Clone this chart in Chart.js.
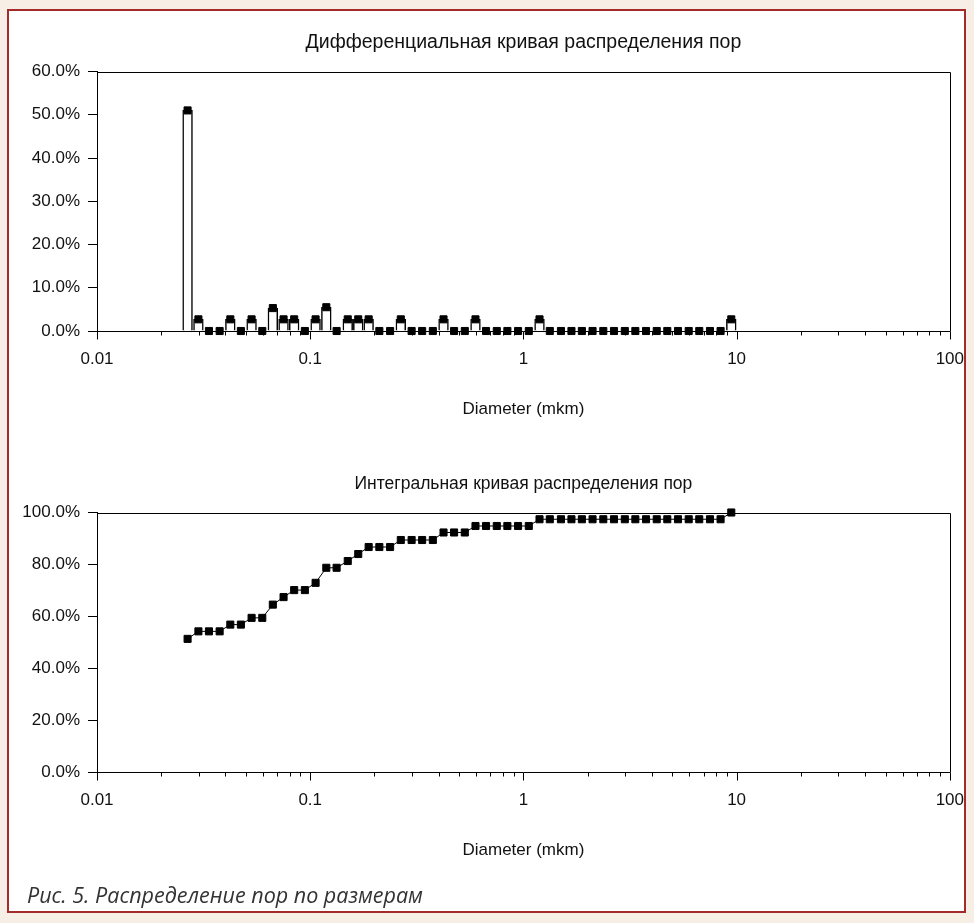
<!DOCTYPE html>
<html lang="ru">
<head>
<meta charset="UTF-8">
<title>Распределение пор по размерам</title>
<script src="https://cdn.jsdelivr.net/npm/chart.js@4"></script>
<style>
  html, body { margin: 0; padding: 0; }
  body { width: 974px; height: 923px; background: #f7efe5; position: relative; overflow: hidden; }
  .frame { position: absolute; left: 7px; top: 9px; width: 955px; height: 900px; border: 2px solid #a52a2a; background: #fff; }
  canvas { position: absolute; left: 0; }
  #diffChart { top: 0; }
  #cumChart { top: 441px; }
  .caption { position: absolute; left: 27px; top: 880px; font: italic 21.5px 'Open Sans', 'Noto Sans', sans-serif; color: #333; white-space: nowrap; }
</style>
</head>
<body>
<div class="frame"></div>
<canvas id="diffChart" width="974" height="440"></canvas>
<canvas id="cumChart" width="974" height="440"></canvas>
<div class="caption">Рис. 5. Распределение пор по размерам</div>
<script>
// pore diameters, mkm
const diameters = [
  0.0266, 0.0299, 0.0335, 0.0376, 0.0422, 0.0473, 0.0531, 0.0596, 0.0668, 0.0750,
  0.0841, 0.0944, 0.106, 0.119, 0.133, 0.150, 0.168, 0.188, 0.211, 0.237,
  0.266, 0.299, 0.335, 0.376, 0.422, 0.473, 0.531, 0.596, 0.668, 0.750,
  0.841, 0.944, 1.06, 1.19, 1.33, 1.50, 1.68, 1.88, 2.11, 2.37,
  2.66, 2.99, 3.35, 3.76, 4.22, 4.73, 5.31, 5.96, 6.68, 7.50,
  8.41, 9.44
];

// differential curve, %
const diffPercent = [
  51.0, 2.7, 0, 0, 2.7, 0, 2.7, 0, 5.3, 2.7,
  2.7, 0, 2.7, 5.5, 0, 2.7, 2.7, 2.7, 0, 0,
  2.7, 0, 0, 0, 2.7, 0, 0, 2.7, 0, 0,
  0, 0, 0, 2.7, 0, 0, 0, 0, 0, 0,
  0, 0, 0, 0, 0, 0, 0, 0, 0, 0,
  0, 2.7
];

// integral curve, %
const cumPercent = [
  51.3, 54.2, 54.2, 54.2, 56.8, 56.8, 59.4, 59.4, 64.5, 67.4,
  70.1, 70.1, 72.9, 78.7, 78.7, 81.3, 84.0, 86.7, 86.7, 86.7,
  89.4, 89.4, 89.4, 89.4, 92.3, 92.3, 92.3, 94.8, 94.8, 94.8,
  94.8, 94.8, 94.8, 97.4, 97.4, 97.4, 97.4, 97.4, 97.4, 97.4,
  97.4, 97.4, 97.4, 97.4, 97.4, 97.4, 97.4, 97.4, 97.4, 97.4,
  97.4, 100.0
];

const xTickLabels = [0.01, 0.1, 1, 10, 100];
const diffYMax = 60, diffYStep = 10;
const cumYMax = 100, cumYStep = 20;

const textColor = '#111';
const axisColor = '#000';
const fontFamily = "'Liberation Sans', Arial, sans-serif";

const isDecade = v => xTickLabels.some(t => Math.abs(t - v) / t < 1e-6);

// top + right edges of the plot box, and long/short ticks on the log axis
const plotFrame = {
  id: 'plotFrame',
  beforeDatasetsDraw(chart) {
    const { ctx, chartArea: a, scales: { x } } = chart;
    const al = v => Math.round(v) + 0.5;
    ctx.save();
    ctx.strokeStyle = axisColor;
    ctx.lineWidth = 1;
    ctx.beginPath();
    ctx.moveTo(al(a.left), al(a.top));
    ctx.lineTo(al(a.right), al(a.top));
    ctx.lineTo(al(a.right), al(a.bottom));
    x.ticks.forEach(t => {
      const px = al(x.getPixelForValue(t.value));
      ctx.moveTo(px, al(a.bottom));
      ctx.lineTo(px, al(a.bottom) + (isDecade(t.value) ? 8 : 4));
    });
    ctx.stroke();
    ctx.restore();
  }
};

function toPoints(values) {
  return diameters.map((d, i) => ({ x: d, y: values[i] }));
}

function makeOptions(title, titleSize, yMax, yStep) {
  const lh = titleSize * 1.2;
  return {
    responsive: false,
    animation: false,
    devicePixelRatio: 1,
    layout: { padding: { left: 0, right: 12, top: 0, bottom: 0 } },
    plugins: {
      legend: { display: false },
      tooltip: { enabled: false },
      title: {
        display: true, text: title, color: textColor, fullSize: false,
        font: { family: fontFamily, size: titleSize, weight: 'normal' },
        padding: { top: 43 - lh / 2, bottom: 71.5 - 43 - lh / 2 }
      }
    },
    scales: {
      x: {
        type: 'logarithmic', min: 0.01, max: 100, offset: false,
        grid: { display: false, offset: false },
        border: { display: true, color: axisColor, width: 1 },
        afterBuildTicks: s => {
          s.ticks = s.ticks.filter(t => {
            const m = t.value / Math.pow(10, Math.floor(Math.log10(t.value) + 1e-9));
            return Math.abs(m - Math.round(m)) < 1e-6;
          });
        },
        afterFit: s => { s.height = 109; },
        ticks: {
          autoSkip: false, maxRotation: 0, minRotation: 0, padding: 10,
          color: textColor, font: { family: fontFamily, size: 17 },
          callback: v => isDecade(v) ? String(v) : ''
        },
        title: {
          display: true, text: 'Diameter (mkm)', color: textColor,
          font: { family: fontFamily, size: 17 },
          padding: { top: 0, bottom: 20 }
        }
      },
      y: {
        min: 0, max: yMax,
        grid: { drawOnChartArea: false, drawTicks: true, tickLength: 9, color: axisColor, lineWidth: 1 },
        border: { display: true, color: axisColor, width: 1 },
        afterFit: s => { s.width = 97; },
        ticks: {
          stepSize: yStep, padding: 8, color: textColor,
          font: { family: fontFamily, size: 17 },
          callback: v => v.toFixed(1) + '%'
        }
      }
    }
  };
}

new Chart(document.getElementById('diffChart'), {
  type: 'bar',
  data: {
    datasets: [
      {
        type: 'line', data: toPoints(diffPercent), showLine: false, order: 0, clip: false,
        pointStyle: 'rect', pointRadius: 5, pointBackgroundColor: '#000',
        pointBorderColor: '#000', pointBorderWidth: 1
      },
      {
        type: 'bar', data: toPoints(diffPercent), order: 1, clip: false,
        backgroundColor: '#fff', borderColor: '#000', borderWidth: 1.5,
        barPercentage: 1, categoryPercentage: 1
      }
    ]
  },
  options: makeOptions('Дифференциальная кривая распределения пор', 19.5, diffYMax, diffYStep),
  plugins: [plotFrame]
});

new Chart(document.getElementById('cumChart'), {
  type: 'line',
  data: {
    datasets: [{
      data: toPoints(cumPercent), fill: false, clip: false,
      borderColor: '#000', borderWidth: 1,
      pointStyle: 'rect', pointRadius: 5, pointBackgroundColor: '#000',
      pointBorderColor: '#000', pointBorderWidth: 1
    }]
  },
  options: makeOptions('Интегральная кривая распределения пор', 17.5, cumYMax, cumYStep),
  plugins: [plotFrame]
});
</script>
</body>
</html>
